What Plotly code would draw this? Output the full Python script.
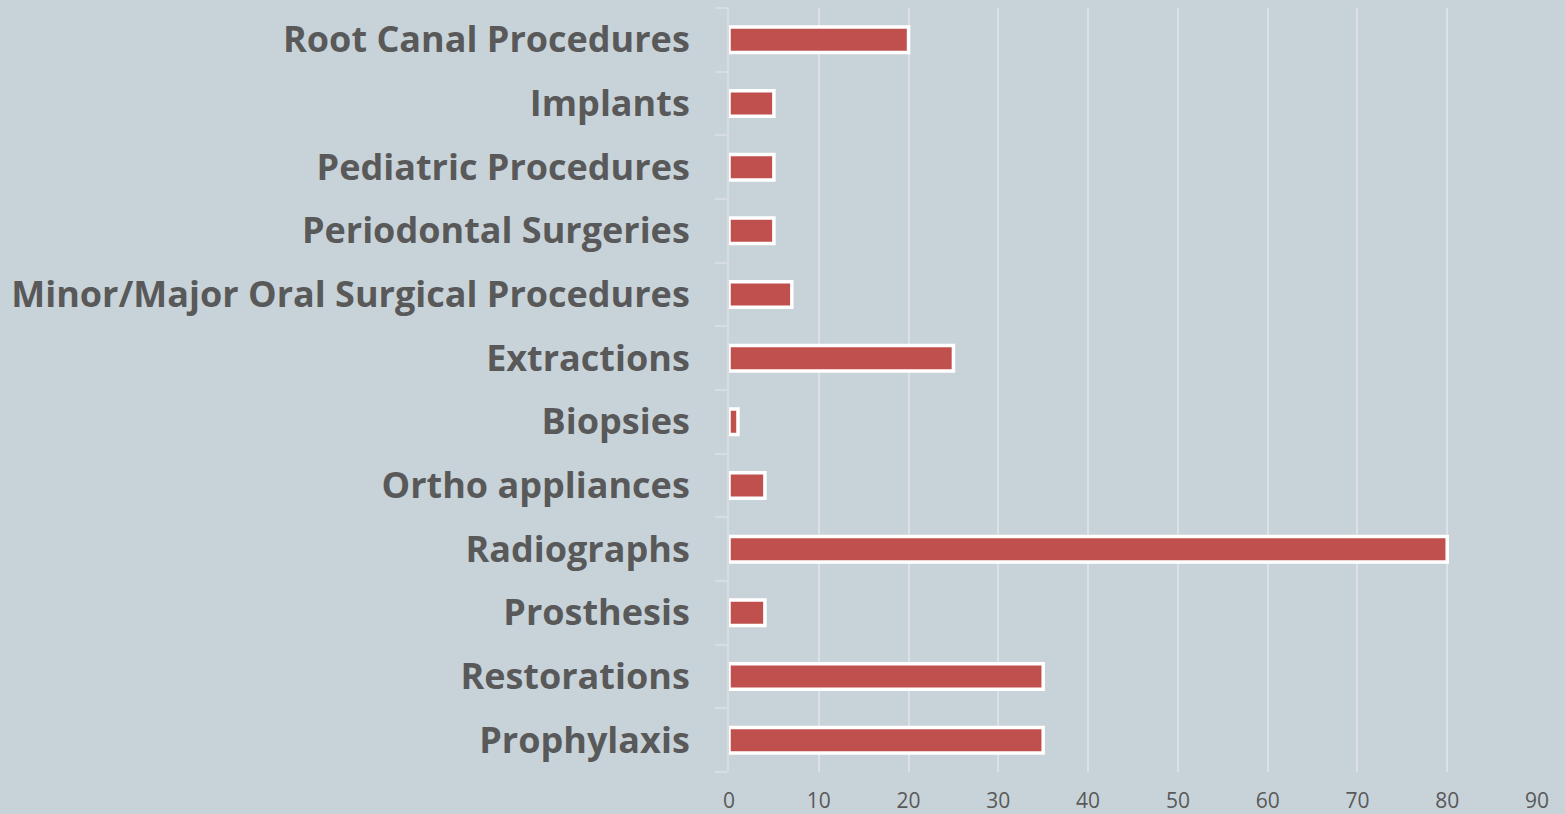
import plotly.graph_objects as go

categories = ["Prophylaxis", "Restorations", "Prosthesis", "Radiographs", "Ortho appliances",
              "Biopsies", "Extractions", "Minor/Major Oral Surgical Procedures",
              "Periodontal Surgeries", "Pediatric Procedures", "Implants", "Root Canal Procedures"]
values = [35, 35, 4, 80, 4, 1, 25, 7, 5, 5, 5, 20]
x_ticks = [0, 10, 20, 30, 40, 50, 60, 70, 80, 90]

bg = "#c8d3d9"
fig = go.Figure(go.Bar(
    y=categories, x=values, orientation="h",
    marker=dict(color="#c0504d", line=dict(color="white", width=3.5)),
))
fig.update_layout(
    width=1565, height=814,
    paper_bgcolor=bg, plot_bgcolor=bg,
    margin=dict(l=729, r=28, t=8, b=42),
    bargap=0.6, showlegend=False,
)
fig.update_xaxes(
    range=[0, 90], tickvals=x_ticks, showgrid=True, gridcolor="#dde1e4", gridwidth=2,
    zeroline=False, showline=False, ticks="", automargin=False,
    tickfont=dict(family="Open Sans", size=21, color="#595959"),
    ticklabelstandoff=14,
)
fig.update_yaxes(
    type="category", categoryorder="array", categoryarray=categories,
    showline=True, linecolor="#d9dcdf", linewidth=2, automargin=False,
    ticks="outside", tickson="boundaries", ticklen=12, tickcolor="#d9dcdf", tickwidth=2,
    tickfont=dict(family="Open Sans", size=36, color="#595959", weight="bold"),
    ticklabelstandoff=30, showgrid=False,
)
fig.write_html("out.html", config={"displayModeBar": False},
               post_script="document.body.style.margin='0';document.body.style.overflow='hidden';")
